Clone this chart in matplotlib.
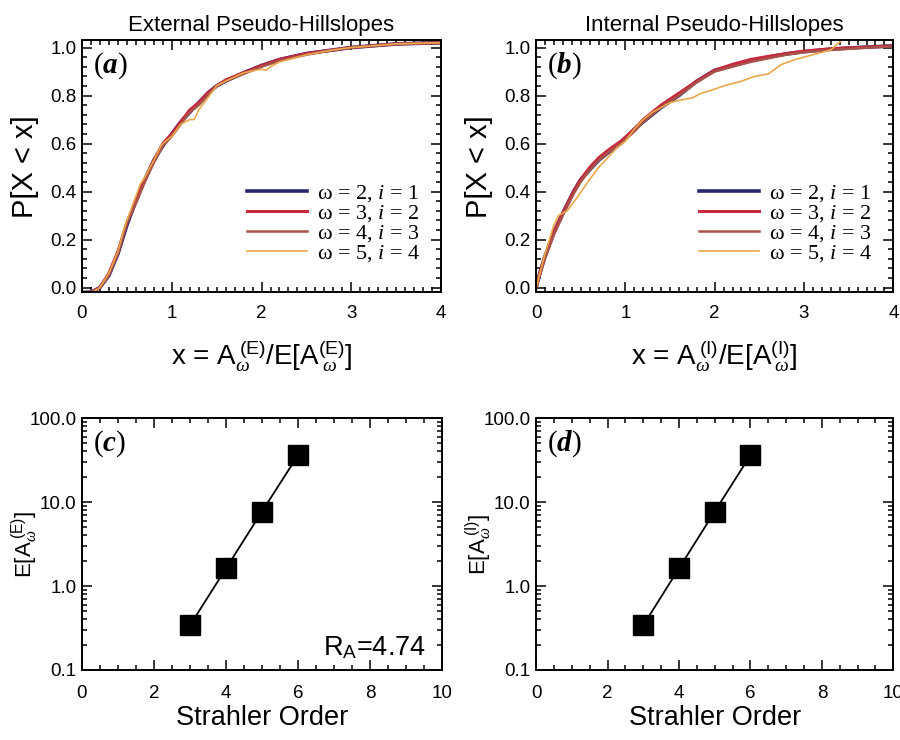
import numpy as np
import matplotlib
matplotlib.use('Agg')
import matplotlib.pyplot as plt
from matplotlib.ticker import MultipleLocator, LogLocator, FixedLocator, FixedFormatter, NullFormatter

plt.rcParams['font.family'] = ['Liberation Sans', 'DejaVu Sans']
plt.rcParams['mathtext.fontset'] = 'custom'
plt.rcParams['mathtext.rm'] = 'Liberation Serif'
plt.rcParams['mathtext.it'] = 'Liberation Serif:italic'
plt.rcParams['mathtext.bf'] = 'Liberation Serif:bold'
plt.rcParams['mathtext.bfit'] = 'Liberation Serif:italic:bold'
plt.rcParams['mathtext.sf'] = 'Liberation Sans'

# cumulative distributions, external pseudo-hillslopes
xa = [0.0, 0.1, 0.15, 0.2, 0.3, 0.4, 0.5, 0.6, 0.7, 0.8, 0.9, 1.0, 1.1, 1.2,
      1.3, 1.4, 1.5, 1.6, 1.8, 2.0, 2.2, 2.5, 2.8, 3.0, 3.5, 4.0]
ext_w2 = [-0.02, -0.02, -0.01, 0.0, 0.05, 0.14, 0.26, 0.36, 0.45, 0.53, 0.59, 0.64, 0.69, 0.73,
          0.77, 0.81, 0.84, 0.86, 0.895, 0.925, 0.95, 0.975, 0.99, 1.0, 1.015, 1.02]
ext_w3 = [-0.02, -0.02, -0.01, 0.0, 0.06, 0.15, 0.27, 0.36, 0.45, 0.53, 0.60, 0.64, 0.69, 0.74,
          0.77, 0.81, 0.84, 0.865, 0.895, 0.925, 0.95, 0.975, 0.99, 1.0, 1.015, 1.02]
ext_w4 = [-0.02, -0.02, -0.01, 0.0, 0.05, 0.14, 0.27, 0.35, 0.44, 0.52, 0.59, 0.63, 0.68, 0.73,
          0.76, 0.80, 0.84, 0.86, 0.89, 0.92, 0.945, 0.97, 0.99, 1.0, 1.015, 1.02]
xa5 = [0.0, 0.12, 0.2, 0.3, 0.4, 0.45, 0.5, 0.6, 0.65, 0.7, 0.8, 0.88, 0.9, 1.0, 1.1, 1.2,
       1.25, 1.3, 1.4, 1.5, 1.6, 1.8, 2.0, 2.05, 2.1, 2.2, 2.5, 2.8, 3.0, 3.5, 4.0]
ext_w5 = [-0.02, -0.02, 0.0, 0.06, 0.15, 0.22, 0.28, 0.38, 0.43, 0.46, 0.53, 0.59, 0.60, 0.63, 0.68, 0.70,
          0.70, 0.74, 0.79, 0.84, 0.86, 0.895, 0.91, 0.905, 0.92, 0.94, 0.97, 0.99, 1.0, 1.015, 1.02]

# cumulative distributions, internal pseudo-hillslopes
xb = [0.0, 0.05, 0.1, 0.2, 0.3, 0.42, 0.5, 0.6, 0.7, 0.8, 0.95, 1.1, 1.2, 1.4,
      1.6, 1.8, 2.0, 2.2, 2.4, 2.6, 2.8, 3.0, 3.3, 3.6, 4.0]
int_w2 = [0.0, 0.07, 0.13, 0.23, 0.31, 0.40, 0.45, 0.49, 0.53, 0.56, 0.60, 0.66, 0.69, 0.75,
          0.80, 0.86, 0.905, 0.925, 0.945, 0.96, 0.973, 0.983, 0.993, 1.0, 1.007]
int_w3 = [0.0, 0.07, 0.13, 0.23, 0.31, 0.40, 0.45, 0.50, 0.54, 0.57, 0.61, 0.66, 0.70, 0.76,
          0.81, 0.86, 0.905, 0.93, 0.95, 0.963, 0.975, 0.985, 0.995, 1.0, 1.007]
int_w4 = [0.0, 0.06, 0.12, 0.22, 0.30, 0.39, 0.44, 0.49, 0.53, 0.56, 0.60, 0.65, 0.69, 0.75,
          0.80, 0.855, 0.90, 0.92, 0.94, 0.955, 0.97, 0.98, 0.99, 0.997, 1.005]
xb5 = [0.0, 0.1, 0.2, 0.25, 0.35, 0.45, 0.6, 0.7, 0.9, 1.0, 1.1, 1.2, 1.3, 1.4, 1.5, 1.6,
       1.75, 1.85, 1.95, 2.1, 2.3, 2.45, 2.6, 2.75, 2.9, 3.1, 3.3, 3.45]
int_w5 = [0.0, 0.14, 0.26, 0.30, 0.32, 0.37, 0.45, 0.50, 0.58, 0.61, 0.66, 0.70, 0.73, 0.75, 0.77, 0.78,
          0.79, 0.81, 0.82, 0.84, 0.86, 0.88, 0.89, 0.93, 0.95, 0.97, 0.99, 1.04]

# mean areas by Strahler order
orders = [3, 4, 5, 6]
mean_ext = [0.34, 1.62, 7.7, 36.0]
mean_int = [0.34, 1.62, 7.7, 36.0]
ratio_ext = 4.74

omegas = [2, 3, 4, 5]
iorder = [1, 2, 3, 4]
line_colors = ['#27276e', '#c8283c', '#a8524a', '#eaa84a']
line_widths = [2.6, 2.2, 1.8, 1.2]

fig = plt.figure(figsize=(9, 7.4), dpi=100)
ax_a = fig.add_axes([0.0911, 0.605, 0.399, 0.3405])
ax_b = fig.add_axes([0.5956, 0.605, 0.397, 0.3405])
ax_c = fig.add_axes([0.0911, 0.0946, 0.4, 0.3405])
ax_d = fig.add_axes([0.5956, 0.0946, 0.397, 0.3405])


def style_box(ax, xpad):
    for s in ax.spines.values():
        s.set_linewidth(1.4)
    ax.tick_params(which='both', direction='in', top=True, right=True, width=1.1)
    ax.tick_params(which='major', length=7, labelsize=13.5)
    ax.tick_params(which='minor', length=3.5)
    ax.tick_params(axis='x', which='major', pad=xpad)
    ax.tick_params(axis='y', which='major', pad=4)


def panel_tag(ax, letter):
    ax.text(0.03, 0.9, r'$(\mathbfit{%s})$' % letter, transform=ax.transAxes,
            fontsize=21, va='center', ha='left')


cdf_sets = [
    (ax_a, [(xa, ext_w2), (xa, ext_w3), (xa, ext_w4), (xa5, ext_w5)], 'External Pseudo-Hillslopes', 'E', 'a'),
    (ax_b, [(xb, int_w2), (xb, int_w3), (xb, int_w4), (xb5, int_w5)], 'Internal Pseudo-Hillslopes', 'I', 'b'),
]
for ax, series, title, sup, tag in cdf_sets:
    for k, (xs, ys) in enumerate(series):
        lab = u'\u03c9 = %d, $\\mathit{i}$ = %d' % (omegas[k], iorder[k])
        ax.plot(xs, ys, color=line_colors[k], lw=line_widths[k], label=lab)
    ax.set_xlim(0, 4)
    ax.set_ylim(-0.02, 1.03)
    ax.xaxis.set_major_locator(MultipleLocator(1))
    ax.xaxis.set_minor_locator(MultipleLocator(0.1))
    ax.yaxis.set_major_locator(MultipleLocator(0.2))
    ax.yaxis.set_minor_locator(MultipleLocator(0.04))
    ax.yaxis.set_major_formatter(matplotlib.ticker.FormatStrFormatter('%.1f'))
    style_box(ax, 9)
    ax.set_title(title, fontsize=16, pad=7)
    ax.set_ylabel('P[X < x]', fontsize=21, labelpad=8)
    ax.set_xlabel(r'x = A$_{\omega}^{\;\mathsf{(%s)}}$/E[A$_{\;\omega}^{\mathsf{(%s)}}$]' % (sup, sup),
                  fontsize=20, labelpad=12)
    ax.legend(loc='lower right', bbox_to_anchor=(0.985, 0.05), frameon=False,
              prop={'family': 'Liberation Serif', 'size': 16},
              handlelength=2.7, handletextpad=0.45, labelspacing=-0.05,
              borderpad=0.2)
    panel_tag(ax, tag)

mean_sets = [(ax_c, mean_ext, 'E', 'c'), (ax_d, mean_int, 'I', 'd')]
for ax, vals, sup, tag in mean_sets:
    ax.plot(orders, vals, color='black', lw=1.3, marker='s', markersize=14,
            markerfacecolor='black', markeredgecolor='black')
    ax.set_yscale('log')
    ax.set_xlim(0, 10)
    ax.set_ylim(0.1, 100)
    ax.xaxis.set_major_locator(MultipleLocator(2))
    ax.xaxis.set_minor_locator(MultipleLocator(0.5))
    ax.yaxis.set_major_locator(FixedLocator([0.1, 1, 10, 100]))
    ax.yaxis.set_major_formatter(FixedFormatter(['0.1', '1.0', '10.0', '100.0']))
    ax.yaxis.set_minor_locator(LogLocator(base=10, subs=np.arange(2, 10)))
    ax.yaxis.set_minor_formatter(NullFormatter())
    style_box(ax, 11)
    ax.set_xlabel('Strahler Order', fontsize=19.5, labelpad=2)
    ax.set_ylabel(r'E[A$_{\omega}^{\;\mathsf{(%s)}}$]' % sup, fontsize=16)
    ax.yaxis.set_label_coords(-0.118, 0.5)
    panel_tag(ax, tag)

ax_c.text(0.955, 0.09, r'R$_{\mathsf{A}}$=%.2f' % ratio_ext, transform=ax_c.transAxes,
          fontsize=19.5, ha='right', va='center')

fig.savefig('out.png', dpi=100)
